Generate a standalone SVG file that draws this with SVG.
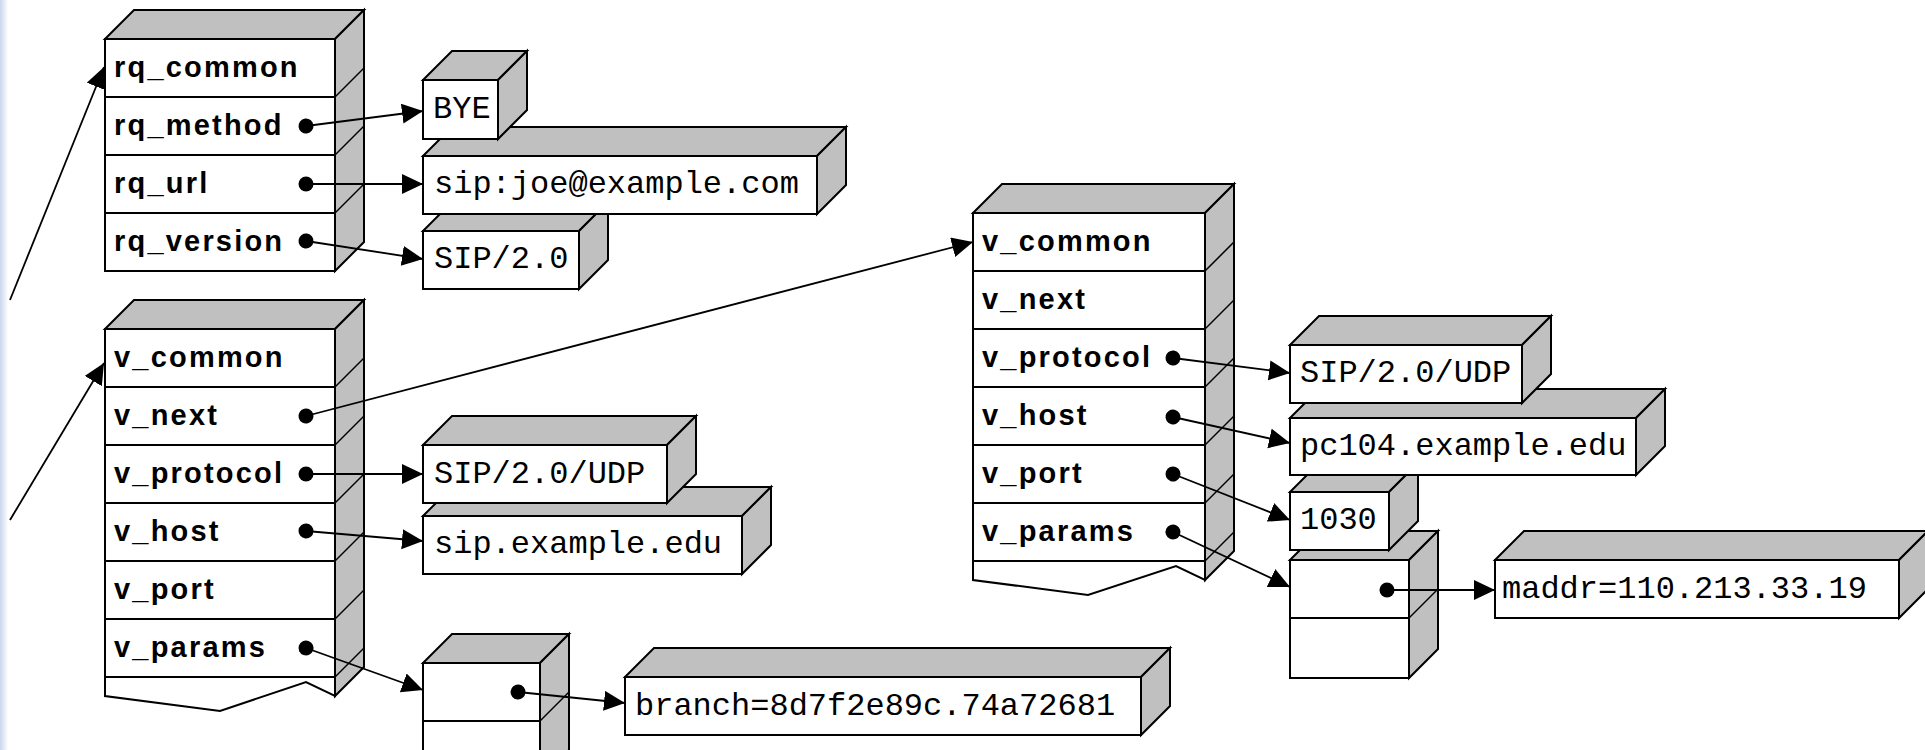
<svg xmlns="http://www.w3.org/2000/svg" width="1925" height="750" viewBox="0 0 1925 750">
<defs>
<linearGradient id="edge" x1="0" y1="0" x2="1" y2="0">
<stop offset="0" stop-color="#c9d6ec"/><stop offset="1" stop-color="#ffffff"/>
</linearGradient>
<marker id="ah" markerUnits="userSpaceOnUse" markerWidth="24" markerHeight="22" refX="21" refY="10" orient="auto">
<path d="M0,0 L21,10 L0,20 z" fill="#000"/>
</marker>
<marker id="dot" markerUnits="userSpaceOnUse" markerWidth="18" markerHeight="18" refX="9" refY="9" orient="auto">
<circle cx="9" cy="9" r="7.5" fill="#000"/>
</marker>
</defs>
<style>
.face{fill:#fff;stroke:#000;stroke-width:2}
.shade{fill:#c0c0c0;stroke:#000;stroke-width:2;stroke-linejoin:miter}
.tick{stroke:#000;stroke-width:1.5;fill:none}
.lbl{font-family:"Liberation Sans",Arial,sans-serif;font-weight:bold;font-size:29px;letter-spacing:2.2px;fill:#000}
.val{font-family:"Liberation Mono","Courier New",monospace;font-size:32px;fill:#000}
.conn{stroke:#000;stroke-width:1.8;fill:none;marker-end:url(#ah)}
.ptr{marker-start:url(#dot)}
</style>
<rect x="0" y="0" width="1925" height="750" fill="#fff"/>
<rect x="0" y="0" width="8" height="750" fill="url(#edge)"/>

<g id="rq-struct">
<polygon class="shade" points="105,39 134,10 364,10 335,39"/>
<polygon class="shade" points="335,39 364,10 364,242 335,271"/>
<line class="tick" x1="335" y1="97" x2="364" y2="68"/>
<line class="tick" x1="335" y1="155" x2="364" y2="126"/>
<line class="tick" x1="335" y1="213" x2="364" y2="184"/>
<rect class="face" x="105" y="39" width="230" height="58"/>
<rect class="face" x="105" y="97" width="230" height="58"/>
<rect class="face" x="105" y="155" width="230" height="58"/>
<rect class="face" x="105" y="213" width="230" height="58"/>
<text class="lbl" x="114" y="77">rq_common</text>
<text class="lbl" x="114" y="135">rq_method</text>
<text class="lbl" x="114" y="193">rq_url</text>
<text class="lbl" x="114" y="251">rq_version</text>
</g>

<g id="val-sip20">
<polygon class="shade" points="423,231 452,202 608,202 579,231"/>
<polygon class="shade" points="579,231 608,202 608,260 579,289"/>
<rect class="face" x="423" y="231" width="156" height="58"/>
<text class="val" x="434" y="268">SIP/2.0</text>
</g>
<g id="val-url">
<polygon class="shade" points="423,156 452,127 846,127 817,156"/>
<polygon class="shade" points="817,156 846,127 846,185 817,214"/>
<rect class="face" x="423" y="156" width="394" height="58"/>
<text class="val" x="434" y="193">sip:joe@example.com</text>
</g>
<g id="val-bye">
<polygon class="shade" points="423,80 452,51 527,51 498,80"/>
<polygon class="shade" points="498,80 527,51 527,110 498,139"/>
<rect class="face" x="423" y="80" width="75" height="59"/>
<text class="val" x="433" y="118">BYE</text>
</g>

<g id="via1-struct">
<polygon class="shade" points="105,329 134,300 364,300 335,329"/>
<polygon class="shade" points="335,329 364,300 364,667 335,696"/>
<line class="tick" x1="335" y1="387" x2="364" y2="358"/>
<line class="tick" x1="335" y1="445" x2="364" y2="416"/>
<line class="tick" x1="335" y1="503" x2="364" y2="474"/>
<line class="tick" x1="335" y1="561" x2="364" y2="532"/>
<line class="tick" x1="335" y1="619" x2="364" y2="590"/>
<line class="tick" x1="335" y1="677" x2="364" y2="648"/>
<rect class="face" x="105" y="329" width="230" height="58"/>
<rect class="face" x="105" y="387" width="230" height="58"/>
<rect class="face" x="105" y="445" width="230" height="58"/>
<rect class="face" x="105" y="503" width="230" height="58"/>
<rect class="face" x="105" y="561" width="230" height="58"/>
<rect class="face" x="105" y="619" width="230" height="58"/>
<polygon class="face" points="105,677 335,677 335,696 306,682 220,711 105,696"/>
<text class="lbl" x="114" y="367">v_common</text>
<text class="lbl" x="114" y="425">v_next</text>
<text class="lbl" x="114" y="483">v_protocol</text>
<text class="lbl" x="114" y="541">v_host</text>
<text class="lbl" x="114" y="599">v_port</text>
<text class="lbl" x="114" y="657">v_params</text>
</g>

<g id="via1-params">
<polygon class="shade" points="423,663 452,634 569,634 540,663"/>
<polygon class="shade" points="540,663 569,634 569,750 540,779"/>
<line class="tick" x1="540" y1="721" x2="569" y2="692"/>
<rect class="face" x="423" y="663" width="117" height="58"/>
<rect class="face" x="423" y="721" width="117" height="58"/>
</g>
<g id="val-branch">
<polygon class="shade" points="625,677 654,648 1170,648 1141,677"/>
<polygon class="shade" points="1141,677 1170,648 1170,706 1141,735"/>
<rect class="face" x="625" y="677" width="516" height="58"/>
<text class="val" x="635" y="715">branch=8d7f2e89c.74a72681</text>
</g>
<g id="val-host1">
<polygon class="shade" points="423,516 452,487 771,487 742,516"/>
<polygon class="shade" points="742,516 771,487 771,545 742,574"/>
<rect class="face" x="423" y="516" width="319" height="58"/>
<text class="val" x="434" y="553">sip.example.edu</text>
</g>
<g id="val-proto1">
<polygon class="shade" points="423,445 452,416 696,416 667,445"/>
<polygon class="shade" points="667,445 696,416 696,474 667,503"/>
<rect class="face" x="423" y="445" width="244" height="58"/>
<text class="val" x="434" y="483">SIP/2.0/UDP</text>
</g>

<g id="via2-struct">
<polygon class="shade" points="973,213 1002,184 1234,184 1205,213"/>
<polygon class="shade" points="1205,213 1234,184 1234,551 1205,580"/>
<line class="tick" x1="1205" y1="271" x2="1234" y2="242"/>
<line class="tick" x1="1205" y1="329" x2="1234" y2="300"/>
<line class="tick" x1="1205" y1="387" x2="1234" y2="358"/>
<line class="tick" x1="1205" y1="445" x2="1234" y2="416"/>
<line class="tick" x1="1205" y1="503" x2="1234" y2="474"/>
<line class="tick" x1="1205" y1="561" x2="1234" y2="532"/>
<rect class="face" x="973" y="213" width="232" height="58"/>
<rect class="face" x="973" y="271" width="232" height="58"/>
<rect class="face" x="973" y="329" width="232" height="58"/>
<rect class="face" x="973" y="387" width="232" height="58"/>
<rect class="face" x="973" y="445" width="232" height="58"/>
<rect class="face" x="973" y="503" width="232" height="58"/>
<polygon class="face" points="973,561 1205,561 1205,580 1176,566 1088,595 973,580"/>
<text class="lbl" x="982" y="251">v_common</text>
<text class="lbl" x="982" y="309">v_next</text>
<text class="lbl" x="982" y="367">v_protocol</text>
<text class="lbl" x="982" y="425">v_host</text>
<text class="lbl" x="982" y="483">v_port</text>
<text class="lbl" x="982" y="541">v_params</text>
</g>

<g id="val-maddr">
<polygon class="shade" points="1495,560 1524,531 1928,531 1899,560"/>
<polygon class="shade" points="1899,560 1928,531 1928,589 1899,618"/>
<rect class="face" x="1495" y="560" width="404" height="58"/>
<text class="val" x="1502" y="598">maddr=110.213.33.19</text>
</g>
<g id="via2-params">
<polygon class="shade" points="1290,560 1319,531 1438,531 1409,560"/>
<polygon class="shade" points="1409,560 1438,531 1438,649 1409,678"/>
<line class="tick" x1="1409" y1="618" x2="1438" y2="589"/>
<rect class="face" x="1290" y="560" width="119" height="58"/>
<rect class="face" x="1290" y="618" width="119" height="60"/>
</g>
<g id="val-port2">
<polygon class="shade" points="1290,492 1319,463 1418,463 1389,492"/>
<polygon class="shade" points="1389,492 1418,463 1418,521 1389,550"/>
<rect class="face" x="1290" y="492" width="99" height="58"/>
<text class="val" x="1300" y="529">1030</text>
</g>
<g id="val-host2">
<polygon class="shade" points="1290,418 1319,389 1665,389 1636,418"/>
<polygon class="shade" points="1636,418 1665,389 1665,446 1636,475"/>
<rect class="face" x="1290" y="418" width="346" height="57"/>
<text class="val" x="1300" y="455">pc104.example.edu</text>
</g>
<g id="val-proto2">
<polygon class="shade" points="1290,345 1319,316 1551,316 1522,345"/>
<polygon class="shade" points="1522,345 1551,316 1551,374 1522,403"/>
<rect class="face" x="1290" y="345" width="232" height="58"/>
<text class="val" x="1300" y="382">SIP/2.0/UDP</text>
</g>

<g id="connectors">
<line class="conn" x1="10" y1="300" x2="104" y2="67"/>
<line class="conn" x1="10" y1="520" x2="104" y2="363"/>
<line class="conn ptr" x1="306" y1="126" x2="423" y2="111"/>
<line class="conn ptr" x1="306" y1="184" x2="423" y2="184"/>
<line class="conn ptr" x1="306" y1="241" x2="423" y2="259"/>
<line class="conn ptr" x1="306" y1="416" x2="973" y2="242"/>
<line class="conn ptr" x1="306" y1="474" x2="423" y2="474"/>
<line class="conn ptr" x1="306" y1="531" x2="423" y2="541"/>
<line class="conn ptr" x1="306" y1="648" x2="423" y2="690"/>
<line class="conn ptr" x1="518" y1="692" x2="625" y2="703"/>
<line class="conn ptr" x1="1173" y1="358" x2="1290" y2="373"/>
<line class="conn ptr" x1="1173" y1="417" x2="1290" y2="443"/>
<line class="conn ptr" x1="1173" y1="474" x2="1290" y2="520"/>
<line class="conn ptr" x1="1173" y1="532" x2="1290" y2="587"/>
<line class="conn ptr" x1="1387" y1="590" x2="1495" y2="590"/>
</g>
</svg>
